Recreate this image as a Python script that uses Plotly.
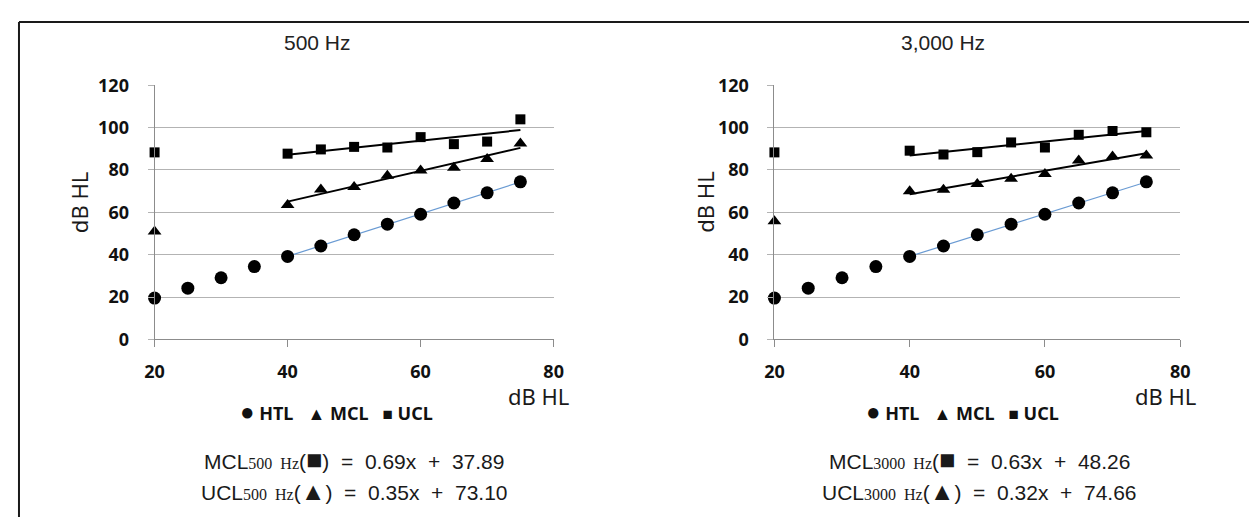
import numpy as np
import plotly.graph_objects as go

W, H = 1257, 520

# ---------------- data ----------------
htl_x = [20, 25, 30, 35, 40, 45, 50, 55, 60, 65, 70, 75]
htl_500 = [19.5, 24.2, 29.1, 34.4, 39.2, 44.1, 49.4, 54.4, 59.1, 64.4, 69.2, 74.4]
htl_3000 = [19.5, 24.2, 29.1, 34.4, 39.2, 44.1, 49.4, 54.4, 59.1, 64.4, 69.2, 74.4]

cl_x = [20, 40, 45, 50, 55, 60, 65, 70, 75]
mcl_500 = [51.0, 63.5, 70.8, 71.9, 77.3, 79.7, 81.0, 85.2, 92.5]
ucl_500 = [88.3, 87.7, 89.7, 90.9, 90.6, 95.5, 92.2, 93.4, 103.9]
mcl_3000 = [55.8, 70.0, 70.6, 73.4, 75.8, 78.1, 84.5, 86.4, 86.8]
ucl_3000 = [88.3, 89.1, 87.3, 88.4, 93.0, 90.6, 96.6, 98.4, 97.8]

titles = ["500 Hz", "3,000 Hz"]
legend_labels = ["HTL", "MCL", "UCL"]
eq_freq = ["500", "3000"]
eq_mcl = ["0.69x  +  37.89", "0.63x  +  48.26"]
eq_ucl = ["0.35x  +  73.10", "0.32x  +  74.66"]
eq_mcl_close = [")", ""]

x_ticks = [20, 40, 60, 80]
y_ticks = [0, 20, 40, 60, 80, 100, 120]
fit_from = 40

# ---------------- layout helpers (target pixel -> paper fraction) ----------------
SX, OX = 0.9864, 16.1
SY, OY = 0.9607, 18.3


def fx(x):
    return ((x - OX) / SX) / W


def fy(y):
    return 1 - ((y - OY) / SY) / H


TICKFONT = dict(family="Noto Sans", size=18, color="#111111", weight="bold")
GRID = "#b3b3b3"
AXIS = "#8c8c8c"

panels = [
    dict(xd=[153, 553], data=(htl_500, mcl_500, ucl_500), xs="x", ys="y",
         cx=353, tx=316, ytitle_x=78, xtitle_x=538, leg_x=335),
    dict(xd=[774.3, 1181], data=(htl_3000, mcl_3000, ucl_3000), xs="x2", ys="y2",
         cx=980, tx=943, ytitle_x=705, xtitle_x=1166, leg_x=963),
]

fig = go.Figure()
annotations = []
layout_axes = {}

for i, p in enumerate(panels):
    htl, mcl, ucl = p["data"]
    xs, ys = p["xs"], p["ys"]

    # trend lines (least squares on the points from 40 dB HL up)
    def trend(xv, yv, color, width):
        xa = np.array(xv, dtype=float)
        ya = np.array(yv, dtype=float)
        m = xa >= fit_from
        k, b = np.polyfit(xa[m], ya[m], 1)
        xx = np.array([xa[m].min(), xa[m].max()])
        fig.add_trace(go.Scatter(x=xx, y=k * xx + b, mode="lines",
                                 line=dict(color=color, width=width),
                                 xaxis=xs, yaxis=ys, showlegend=False,
                                 hoverinfo="skip", cliponaxis=False))

    trend(htl_x, htl, "#6a9bd3", 1.2)
    trend(cl_x, mcl, "#000000", 2)
    trend(cl_x, ucl, "#000000", 2)

    fig.add_trace(go.Scatter(x=htl_x, y=htl, mode="markers", name="HTL",
                             marker=dict(symbol="circle", size=13, color="#000000"),
                             xaxis=xs, yaxis=ys, showlegend=False, cliponaxis=False))
    fig.add_trace(go.Scatter(x=cl_x, y=mcl, mode="markers", name="MCL",
                             marker=dict(symbol="triangle-up", size=12, color="#000000"),
                             xaxis=xs, yaxis=ys, showlegend=False, cliponaxis=False))
    fig.add_trace(go.Scatter(x=cl_x, y=ucl, mode="markers", name="UCL",
                             marker=dict(symbol="square", size=10, color="#000000"),
                             xaxis=xs, yaxis=ys, showlegend=False, cliponaxis=False))

    xkey = "xaxis" if i == 0 else "xaxis2"
    ykey = "yaxis" if i == 0 else "yaxis2"
    layout_axes[xkey] = dict(
        domain=[fx(p["xd"][0]), fx(p["xd"][1])], range=[20, 80],
        tickvals=x_ticks, showgrid=False, zeroline=False,
        showline=True, linecolor=AXIS, linewidth=1,
        ticks="outside", ticklen=7, tickcolor=AXIS, tickwidth=1,
        tickfont=TICKFONT, ticklabelstandoff=9,
        anchor=ys, fixedrange=True,
    )
    layout_axes[ykey] = dict(
        domain=[fy(339), fy(83)], range=[0, 120],
        tickvals=y_ticks, showgrid=True, gridcolor=GRID, gridwidth=1,
        zeroline=False, showline=True, linecolor=AXIS, linewidth=1,
        ticks="outside", ticklen=6, tickcolor=GRID, tickwidth=1,
        tickfont=TICKFONT, ticklabelstandoff=15,
        anchor=xs, fixedrange=True,
    )

    # panel title
    annotations.append(dict(text=titles[i], x=fx(p["tx"]), y=fy(40), xref="paper",
                            yref="paper", showarrow=False, xanchor="center", yanchor="middle",
                            font=dict(family="Liberation Sans", size=21, color="#222222")))
    # y title
    annotations.append(dict(text="dB HL", x=fx(p["ytitle_x"]), y=fy(201), xref="paper",
                            yref="paper", showarrow=False, textangle=-90,
                            xanchor="center", yanchor="middle",
                            font=dict(family="Noto Sans", size=22, color="#1a1a1a")))
    # x title
    annotations.append(dict(text="dB HL", x=fx(p["xtitle_x"]), y=fy(396), xref="paper",
                            yref="paper", showarrow=False, xanchor="center", yanchor="middle",
                            font=dict(family="Noto Sans", size=22, color="#1a1a1a")))
    # legend
    leg = ("<span style='font-size:24px'>●</span> " + legend_labels[0] +
           "   <span style='font-size:18px'>▲</span> " + legend_labels[1] +
           "   <span style='font-size:17px'>■</span> " + legend_labels[2])
    annotations.append(dict(text=leg, x=fx(p["leg_x"]), y=fy(411), xref="paper",
                            yref="paper", showarrow=False, xanchor="center", yanchor="middle",
                            font=dict(family="Noto Sans", size=18, color="#111111",
                                      weight="bold")))
    # equations
    sub = ("<span style='font-family:\"Liberation Serif\";font-size:16px'>" +
           eq_freq[i] + "  Hz</span>")
    sq = "<span style='font-size:27px'>■</span>"
    tri = "<span style='font-size:25px'>▲</span>"
    l1 = "MCL" + sub + "(" + sq + eq_mcl_close[i] + "  =  " + eq_mcl[i]
    l2 = "UCL" + sub + "(" + tri + ")  =  " + eq_ucl[i]
    for txt, yy in ((l1, 460), (l2, 492)):
        annotations.append(dict(text=txt, x=fx(p["cx"]), y=fy(yy), xref="paper",
                                yref="paper", showarrow=False, xanchor="center",
                                yanchor="middle",
                                font=dict(family="Liberation Sans", size=21,
                                          color="#1a1a1a")))

shapes = [
    dict(type="line", xref="paper", yref="paper", x0=1 / W, x1=1.0, y0=1 - 1 / H,
         y1=1 - 1 / H, line=dict(color="#1a1a1a", width=2)),
    dict(type="line", xref="paper", yref="paper", x0=1 / W, x1=1 / W, y0=0,
         y1=1 - 1 / H, line=dict(color="#1a1a1a", width=2)),
]

fig.update_layout(
    width=W, height=H, autosize=False,
    margin=dict(l=0, r=0, t=0, b=0),
    paper_bgcolor="white", plot_bgcolor="white",
    showlegend=False,
    annotations=annotations, shapes=shapes,
    **layout_axes,
)

fig.write_html("out.html")
